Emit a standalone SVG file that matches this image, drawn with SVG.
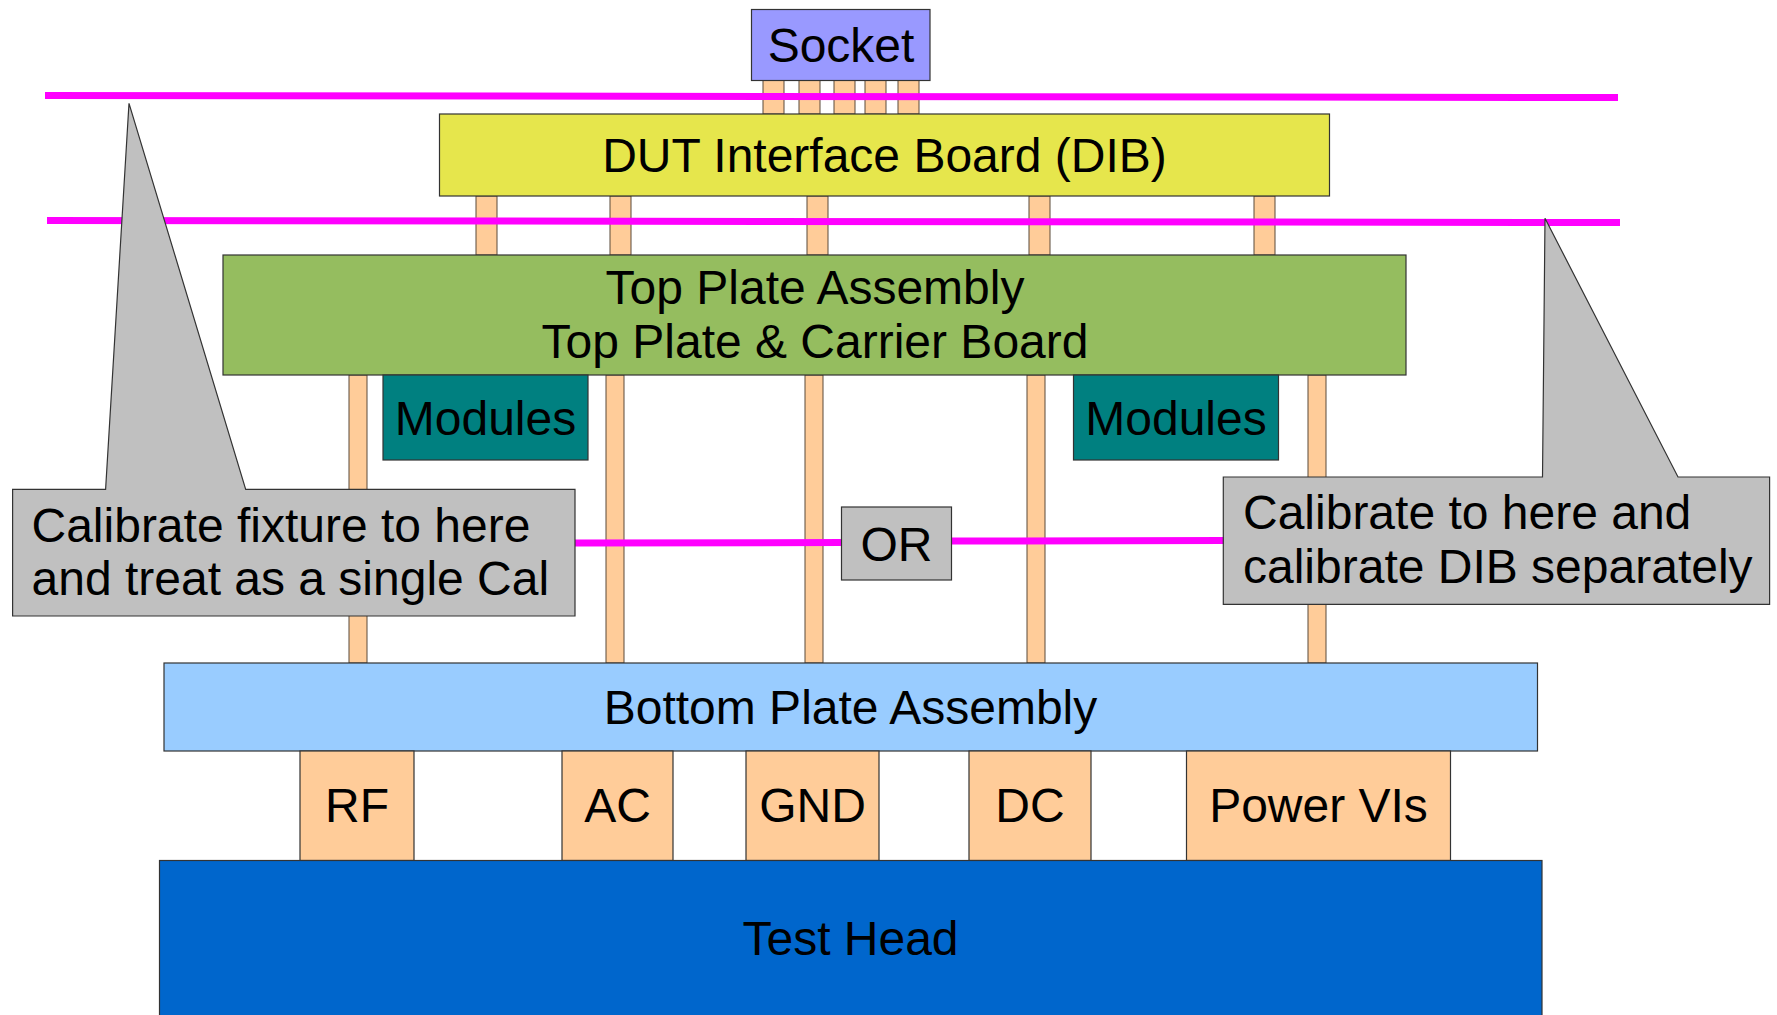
<svg xmlns="http://www.w3.org/2000/svg" width="1777" height="1015" viewBox="0 0 1777 1015">
<style>
text{font-family:"Liberation Sans",Arial,sans-serif;font-size:48px;fill:#000}
.c{text-anchor:middle}
.box{stroke:#333;stroke-width:1.2}
.pin{fill:#ffcc99;stroke:#5a4a3a;stroke-width:1}
.mag{stroke:#ff00ff;stroke-width:7;fill:none}
.call{fill:#c0c0c0;stroke:#333;stroke-width:1.2}
</style>
<rect width="1777" height="1015" fill="#fff"/>
<g id="connectors">
  <rect class="pin" x="763" y="80" width="21" height="34"/>
  <rect class="pin" x="799" y="80" width="21" height="34"/>
  <rect class="pin" x="834" y="80" width="21" height="34"/>
  <rect class="pin" x="865" y="80" width="21" height="34"/>
  <rect class="pin" x="898" y="80" width="21" height="34"/>
  <rect class="pin" x="476" y="196" width="21" height="59"/>
  <rect class="pin" x="610" y="196" width="21" height="59"/>
  <rect class="pin" x="807" y="196" width="21" height="59"/>
  <rect class="pin" x="1029" y="196" width="21" height="59"/>
  <rect class="pin" x="1254" y="196" width="21" height="59"/>
  <rect class="pin" x="349" y="375" width="18" height="288"/>
  <rect class="pin" x="606" y="375" width="18" height="288"/>
  <rect class="pin" x="805" y="375" width="18" height="288"/>
  <rect class="pin" x="1027" y="375" width="18" height="288"/>
  <rect class="pin" x="1308" y="375" width="18" height="288"/>
  <line class="mag" x1="45" y1="95.5" x2="1618" y2="97.5"/>
  <line class="mag" x1="47" y1="220.5" x2="1620" y2="222.5"/>
  <line class="mag" x1="575" y1="543" x2="842" y2="542.5"/>
  <line class="mag" x1="951" y1="541" x2="1224" y2="540.5"/>
</g>
<g id="socket">
  <rect class="box" x="751.5" y="9.5" width="178.5" height="71" fill="#9999ff"/>
  <text class="c" x="841" y="61.5">Socket</text>
</g>
<g id="dib">
  <rect class="box" x="439.5" y="114" width="890" height="82" fill="#e6e64c"/>
  <text class="c" x="884.5" y="172">DUT Interface Board (DIB)</text>
</g>
<g id="top-plate">
  <rect class="box" x="223" y="255" width="1183" height="120" fill="#95bd5f"/>
  <text class="c" x="815" y="304">Top Plate Assembly</text>
  <text class="c" x="815" y="358">Top Plate &amp; Carrier Board</text>
</g>
<g id="modules-left">
  <rect class="box" x="383" y="375" width="205" height="85" fill="#008080"/>
  <text class="c" x="485.5" y="435">Modules</text>
</g>
<g id="modules-right">
  <rect class="box" x="1073.5" y="375" width="205" height="85" fill="#008080"/>
  <text class="c" x="1176" y="435">Modules</text>
</g>
<g id="callout-left">
  <path class="call" d="M12.6,489.3 H105.6 L129,103.3 L245.7,489.3 H575 V616 H12.6 Z"/>
  <text x="31.5" y="541.7">Calibrate fixture to here</text>
  <text x="31.5" y="595">and treat as a single Cal</text>
</g>
<g id="or">
  <rect class="box" x="841.5" y="507" width="110" height="73" fill="#c0c0c0"/>
  <text class="c" x="896.5" y="561">OR</text>
</g>
<g id="callout-right">
  <path class="call" d="M1223.3,477 H1542.5 L1545,218.3 L1678,477 H1769.6 V604.3 H1223.3 Z"/>
  <text x="1243" y="529">Calibrate to here and</text>
  <text x="1243" y="582.7">calibrate DIB separately</text>
</g>
<g id="bottom-plate">
  <rect class="box" x="164" y="663" width="1373.5" height="88" fill="#99ccff"/>
  <text class="c" x="850.5" y="724">Bottom Plate Assembly</text>
</g>
<g id="rf">
  <rect class="box" x="300" y="751" width="114" height="109.5" fill="#ffcc99"/>
  <text class="c" x="357" y="822">RF</text>
</g>
<g id="ac">
  <rect class="box" x="562" y="751" width="111" height="109.5" fill="#ffcc99"/>
  <text class="c" x="617.5" y="822">AC</text>
</g>
<g id="gnd">
  <rect class="box" x="746" y="751" width="133" height="109.5" fill="#ffcc99"/>
  <text class="c" x="812.5" y="822">GND</text>
</g>
<g id="dc">
  <rect class="box" x="969" y="751" width="122" height="109.5" fill="#ffcc99"/>
  <text class="c" x="1030" y="822">DC</text>
</g>
<g id="power-vis">
  <rect class="box" x="1186.5" y="751" width="264" height="109.5" fill="#ffcc99"/>
  <text class="c" x="1318.5" y="822">Power VIs</text>
</g>
<g id="test-head">
  <rect class="box" x="159.5" y="860.5" width="1382.5" height="170" fill="#0066cc"/>
  <text class="c" x="850.5" y="955">Test Head</text>
</g>
</svg>
